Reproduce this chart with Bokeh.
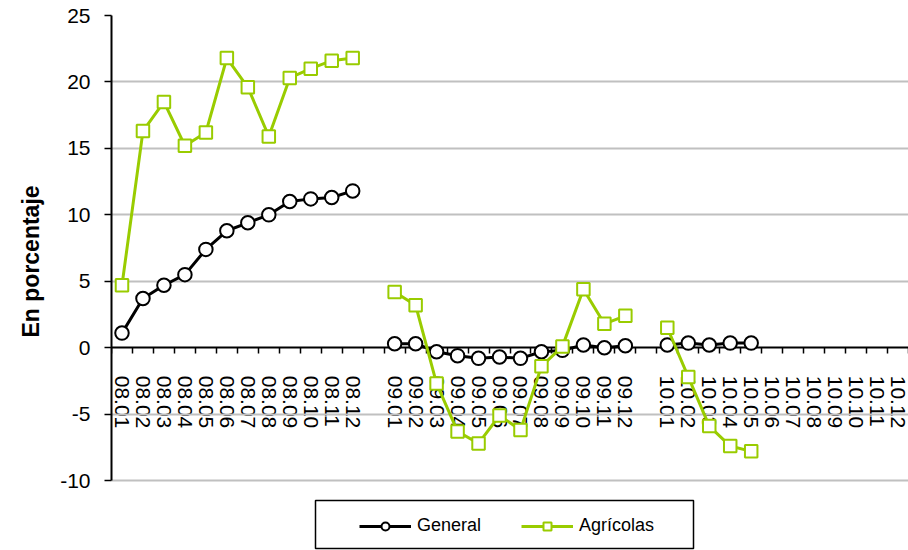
import math
from bokeh.plotting import figure
from bokeh.models import (Range1d, FixedTicker, Legend, LegendItem, ColumnDataSource,
                          Title, BoxAnnotation)
from bokeh.embed import file_html
from bokeh.resources import INLINE

# ---- data -------------------------------------------------------------
cats_08 = ["08.01", "08.02", "08.03", "08.04", "08.05", "08.06",
           "08.07", "08.08", "08.09", "08.10", "08.11", "08.12"]
cats_09 = ["09.01", "09.02", "09.03", "09.04", "09.05", "09.06",
           "09.07", "09.08", "09.09", "09.10", "09.11", "09.12"]
cats_10 = ["10.01", "10.02", "10.03", "10.04", "10.05", "10.06",
           "10.07", "10.08", "10.09", "10.10", "10.11", "10.12"]

general_08 = [1.1, 3.7, 4.7, 5.5, 7.4, 8.8, 9.4, 10.0, 11.0, 11.2, 11.3, 11.8]
general_09 = [0.3, 0.3, -0.3, -0.6, -0.8, -0.7, -0.8, -0.3, -0.2, 0.2, 0.0, 0.15]
general_10 = [0.2, 0.35, 0.2, 0.35, 0.35]

agricolas_08 = [4.7, 16.3, 18.5, 15.2, 16.2, 21.8, 19.6, 15.9, 20.3, 21.0, 21.6, 21.8]
agricolas_09 = [4.2, 3.2, -2.7, -6.3, -7.2, -5.1, -6.2, -1.4, 0.1, 4.4, 1.8, 2.4]
agricolas_10 = [1.5, -2.2, -5.9, -7.4, -7.8]

y_ticks = [-10, -5, 0, 5, 10, 15, 20, 25]

series_names = ["General", "Agrícolas"]
y_title = "En porcentaje"

# ---- assemble slots (one blank slot between years) ---------------------
nan = float("nan")
slots = cats_08 + [""] + cats_09 + [""] + cats_10


def pad(vals, n):
    return vals + [nan] * (n - len(vals))


general = general_08 + [nan] + general_09 + [nan] + pad(general_10, 12)
agricolas = agricolas_08 + [nan] + agricolas_09 + [nan] + pad(agricolas_10, 12)
xs = [i + 0.5 for i in range(len(slots))]

src = ColumnDataSource(dict(x=xs, gen=general, agr=agricolas))

FONT = "Liberation Sans"
GREEN = "#99CC00"

# frame runs from the top of the axis down to the page bottom so the legend
# (placed under the -10 line) is inside the drawable area
y_lo = -15.26
p = figure(width=908, height=550, output_backend="svg", toolbar_location=None,
           x_range=Range1d(0, len(slots)), y_range=Range1d(y_lo, 25),
           min_border_left=111, min_border_right=0, min_border_top=15,
           min_border_bottom=0)
p.outline_line_color = None
p.background_fill_color = "white"
p.border_fill_color = "white"

# grid
p.xgrid.visible = False
p.ygrid.ticker = FixedTicker(ticks=[t for t in y_ticks if t != 0])
p.ygrid.grid_line_color = "#C0C0C0"
p.ygrid.grid_line_width = 2

# y axis
ya = p.yaxis[0]
ya.ticker = FixedTicker(ticks=y_ticks)
ya.bounds = (y_ticks[0], y_ticks[-1])
ya.axis_line_color = "black"
ya.axis_line_width = 2
ya.major_tick_line_color = "black"
ya.major_tick_line_width = 1.5
ya.major_tick_out = 7
ya.major_tick_in = 0
ya.minor_tick_line_color = None
ya.major_label_text_font = FONT
ya.major_label_text_font_size = "21px"
ya.major_label_text_color = "black"
ya.major_label_standoff = 14
ya.major_label_overrides = {t: str(t) for t in y_ticks}

# y title as a side title, starting just above the frame bottom
p.add_layout(Title(text=y_title, align="left", offset=213, standoff=28,
                   text_font=FONT, text_font_size="23px", text_font_style="bold",
                   text_color="black"), "left")

# x axis placed at y = 0
xa = p.xaxis[0]
label_pos = [x for x, s in zip(xs, slots) if s]
xa.ticker = FixedTicker(ticks=label_pos, minor_ticks=list(range(len(slots) + 1)))
xa.major_label_overrides = {x: s for x, s in zip(xs, slots) if s}
xa.fixed_location = 0
xa.level = "underlay"
xa.axis_line_color = "black"
xa.axis_line_width = 2
xa.major_tick_out = 0
xa.major_tick_in = 0
xa.minor_tick_out = 6
xa.minor_tick_in = 0
xa.minor_tick_line_color = "black"
xa.minor_tick_line_width = 1.5
xa.major_label_orientation = "vertical"
xa.major_label_text_font = FONT
xa.major_label_text_font_size = "21px"
xa.major_label_text_color = "black"
xa.major_label_standoff = 22

# series
lg = p.line("x", "gen", source=src, line_color="black", line_width=3)
sg = p.scatter("x", "gen", source=src, marker="circle", size=13.5,
               fill_color="white", line_color="black", line_width=2)
la = p.line("x", "agr", source=src, line_color=GREEN, line_width=3)
sa = p.scatter("x", "agr", source=src, marker="square", size=12.5,
               fill_color="white", line_color=GREEN, line_width=2)

# legend frame
p.add_layout(BoxAnnotation(left=315, right=693, top=500, bottom=548,
                           left_units="canvas", right_units="canvas",
                           top_units="canvas", bottom_units="canvas",
                           fill_color="white", fill_alpha=1,
                           line_color="black", line_width=1.5, line_alpha=1))

legend = Legend(items=[LegendItem(label=series_names[0], renderers=[lg, sg]),
                       LegendItem(label=series_names[1], renderers=[la, sa])],
                orientation="horizontal", location=(248, 14), margin=0,
                padding=0, spacing=40, glyph_width=52, glyph_height=20,
                label_standoff=6, label_text_font=FONT,
                label_text_font_size="18px", label_text_color="black",
                border_line_color=None, background_fill_alpha=0)
p.add_layout(legend)

open("out.html", "w").write(file_html(p, INLINE))
